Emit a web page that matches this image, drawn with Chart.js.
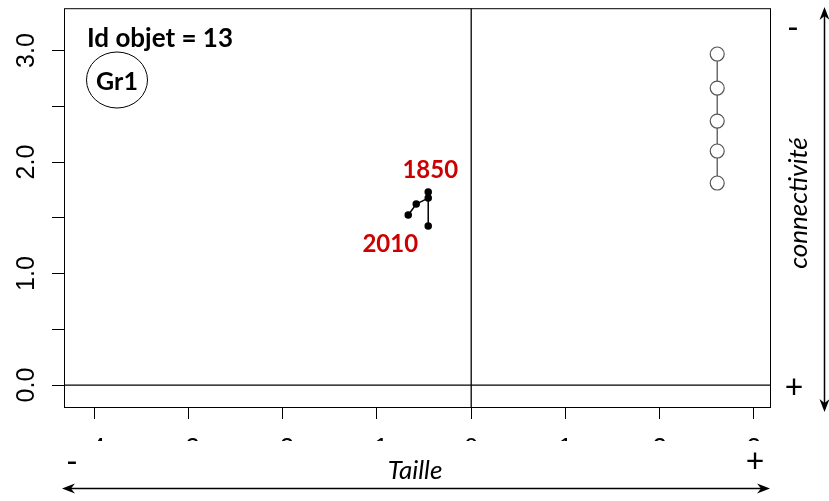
<!DOCTYPE html>
<html>
<head>
<meta charset="utf-8">
<script src="https://cdn.jsdelivr.net/npm/chart.js@4.4.0/dist/chart.umd.min.js"></script>
<style>
html, body { margin:0; padding:0; background:#fff; }
</style>
</head>
<body>
<canvas id="myChart" width="829" height="501"></canvas>
<script>
// axis ranges and ticks
const xRange = [-4.32, 3.17];
const yRange = [-0.197, 3.38];
const xTicks = [-4, -3, -2, -1, 0, 1, 2, 3];
const yTicks = [0, 0.5, 1, 1.5, 2, 2.5, 3];

// object trajectory (1850 -> 2010)
const objX = [-0.456, -0.456, -0.456, -0.583, -0.668];
const objY = [1.731, 1.426, 1.677, 1.623, 1.525];
const yearLabels = ['1850', '2010'];

// reference group (grey circles)
const grpX = [2.61, 2.61, 2.61, 2.61, 2.61];
const grpY = [2.969, 2.664, 2.368, 2.099, 1.812];

const toPts = (xs, ys) => xs.map((x, i) => ({x: x, y: ys[i]}));

const arrow = (ctx, x1, y1, x2, y2) => {
    const a = Math.atan2(y2 - y1, x2 - x1);
    ctx.beginPath();
    ctx.moveTo(x2, y2);
    ctx.lineTo(x2 - 13 * Math.cos(a) + 5 * Math.sin(a), y2 - 13 * Math.sin(a) - 5 * Math.cos(a));
    ctx.lineTo(x2 - 9 * Math.cos(a), y2 - 9 * Math.sin(a));
    ctx.lineTo(x2 - 13 * Math.cos(a) - 5 * Math.sin(a), y2 - 13 * Math.sin(a) + 5 * Math.cos(a));
    ctx.closePath();
    ctx.fill();
};

const decor = {
    id: 'decor',
    afterDraw(chart) {
        const ctx = chart.ctx;
        const a = chart.chartArea;
        const xs = chart.scales.x, ys = chart.scales.y;
        ctx.save();
        // plot box
        ctx.strokeStyle = '#000';
        ctx.lineWidth = 1;
        ctx.strokeRect(a.left + 0.5, a.top + 0.5, a.right - a.left, a.bottom - a.top);

        // the x tick labels are cut off in the original
        ctx.fillStyle = '#fff';
        ctx.fillRect(0, 441, chart.width, chart.height - 441);

        ctx.fillStyle = '#000';
        ctx.font = 'bold 26px Lato';
        ctx.textAlign = 'left';
        ctx.textBaseline = 'alphabetic';
        ctx.fillText('Id objet = 13', 87, 47);

        ctx.beginPath();
        ctx.ellipse(117, 80, 30.5, 28, 0, 0, Math.PI * 2);
        ctx.stroke();
        ctx.textAlign = 'center';
        ctx.font = 'bold 25px Lato';
        ctx.fillText('Gr1', 117, 90);

        // year labels
        ctx.fillStyle = '#cc0000';
        ctx.font = 'bold 24px Lato';
        const first = {x: xs.getPixelForValue(objX[0]), y: ys.getPixelForValue(objY[0])};
        const last = {x: xs.getPixelForValue(objX[objX.length - 1]), y: ys.getPixelForValue(objY[objY.length - 1])};
        ctx.fillText(yearLabels[0], first.x + 2, first.y - 14);
        ctx.fillText(yearLabels[1], last.x - 18, last.y + 37);

        // side annotations
        ctx.fillStyle = '#000';
        ctx.font = '32px Lato';
        ctx.textBaseline = 'middle';
        ctx.fillText('-', 793, 29);
        ctx.fillText('+', 794, 388);
        ctx.fillText('-', 72, 463);
        ctx.fillText('+', 755, 462);

        ctx.font = 'italic 26px Lato';
        ctx.textBaseline = 'alphabetic';
        ctx.fillText('Taille', 415, 479);
        ctx.save();
        ctx.translate(807, 203);
        ctx.rotate(-Math.PI / 2);
        ctx.fillText('connectivité', 0, 0);
        ctx.restore();

        // double arrows
        ctx.lineWidth = 1.5;
        ctx.beginPath();
        ctx.moveTo(66, 488.5);
        ctx.lineTo(766, 488.5);
        ctx.stroke();
        arrow(ctx, 400, 488.5, 770, 488.5);
        arrow(ctx, 400, 488.5, 62, 488.5);
        ctx.beginPath();
        ctx.moveTo(824.5, 11);
        ctx.lineTo(824.5, 408);
        ctx.stroke();
        arrow(ctx, 824.5, 200, 824.5, 7);
        arrow(ctx, 824.5, 200, 824.5, 412);
        ctx.restore();
    }
};

const axisCommon = {
    type: 'linear',
    grid: {drawOnChartArea: false, drawTicks: true, tickLength: 12, color: '#000', lineWidth: 1},
    border: {display: false}
};

new Chart(document.getElementById('myChart'), {
    type: 'scatter',
    data: {
        datasets: [
            {data: [{x: 0, y: yRange[0]}, {x: 0, y: yRange[1]}], showLine: true, borderColor: '#000', borderWidth: 1.3, pointRadius: 0},
            {data: [{x: xRange[0], y: 0}, {x: xRange[1], y: 0}], showLine: true, borderColor: '#000', borderWidth: 1.3, pointRadius: 0},
            {data: toPts(grpX, grpY), showLine: true, borderColor: '#555', borderWidth: 1.3,
             pointRadius: 7, pointBackgroundColor: '#fff', pointBorderColor: '#555', pointBorderWidth: 1.2},
            {data: toPts(objX, objY), showLine: true, borderColor: '#000', borderWidth: 1.5,
             pointRadius: 3, pointBackgroundColor: '#000', pointBorderColor: '#000'}
        ]
    },
    options: {
        responsive: false,
        animation: false,
        devicePixelRatio: 1,
        layout: {padding: {top: 8, right: 59, left: 0, bottom: 0}},
        plugins: {legend: {display: false}, tooltip: {enabled: false}},
        scales: {
            x: Object.assign({}, axisCommon, {
                min: xRange[0], max: xRange[1],
                afterBuildTicks: s => { s.ticks = xTicks.map(v => ({value: v})); },
                afterFit: s => { s.height = 94; s.paddingLeft = 0; s.paddingRight = 0; },
                ticks: {autoSkip: false, maxRotation: 0, padding: 15, color: '#000',
                        font: {family: 'Liberation Sans', size: 25}, callback: v => String(v)}
            }),
            y: Object.assign({}, axisCommon, {
                min: yRange[0], max: yRange[1],
                afterBuildTicks: s => { s.ticks = yTicks.map(v => ({value: v})); },
                afterFit: s => { s.width = 64; s.paddingTop = 0; s.paddingBottom = 0; },
                ticks: {autoSkip: false, minRotation: 90, maxRotation: 90, crossAlign: 'center', padding: 8,
                        color: '#000', font: {family: 'Liberation Sans', size: 25},
                        callback: v => Number.isInteger(v) ? v.toFixed(1) : ''}
            })
        }
    },
    plugins: [decor]
});
</script>
</body>
</html>
